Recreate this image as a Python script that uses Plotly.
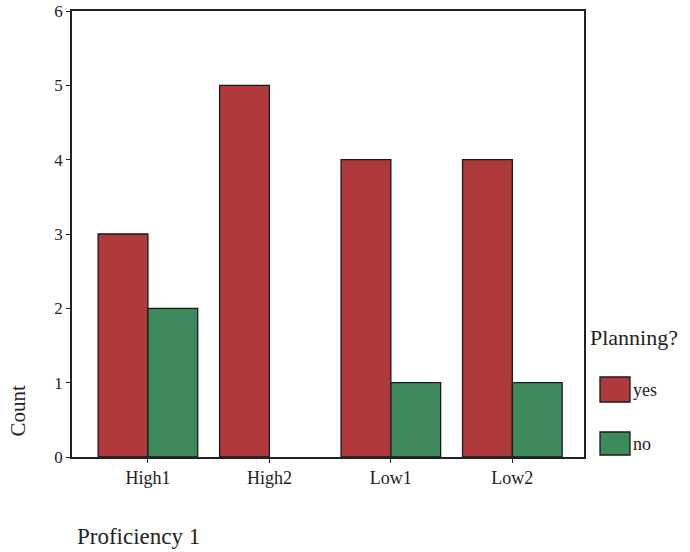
import plotly.graph_objects as go

categories = ["High1", "High2", "Low1", "Low2"]
yes_counts = [3, 5, 4, 4]
no_counts = [2, 0, 1, 1]
series_names = ["yes", "no"]
y_ticks = [0, 1, 2, 3, 4, 5, 6]

RED = "#B03A3B"
GREEN = "#3E8A5C"
FONT = "Liberation Serif"

def edge_widths(vals):
    return [0 if v == 0 else 1.3 for v in vals]

fig = go.Figure()
fig.add_trace(go.Bar(x=categories, y=yes_counts, name=series_names[0],
                     marker=dict(color=RED, line=dict(color="#1a1a1a", width=edge_widths(yes_counts)))))
fig.add_trace(go.Bar(x=categories, y=no_counts, name=series_names[1],
                     marker=dict(color=GREEN, line=dict(color="#1a1a1a", width=edge_widths(no_counts)))))

fig.update_layout(
    width=690, height=552,
    margin=dict(l=72, r=106, t=11, b=95, autoexpand=False),
    paper_bgcolor="white", plot_bgcolor="white",
    barmode="group", bargap=0.18, bargroupgap=0,
    showlegend=False,
    font=dict(family=FONT, size=14, color="#222"),
)
fig.update_xaxes(
    range=[-0.625, 3.59], showline=True, linecolor="#222", linewidth=1.5,
    mirror=True, ticks="outside", ticklen=4, tickcolor="#222",
    showgrid=False, tickfont=dict(family=FONT, size=18), automargin=False,
)
fig.update_yaxes(
    range=[0, 6], tickvals=y_ticks, showline=True, linecolor="#222", linewidth=1.5,
    mirror=True, ticks="outside", ticklen=4, tickcolor="#222",
    showgrid=False, zeroline=False, tickfont=dict(family=FONT, size=17), automargin=False,
    ticklabeloverflow="allow",
)

# axis titles
fig.add_annotation(text="Count", xref="paper", yref="paper", x=-0.105, y=0.105,
                   textangle=-90, showarrow=False, font=dict(family=FONT, size=21),
                   xanchor="center", yanchor="middle")
fig.add_annotation(text="Proficiency 1", xref="paper", yref="paper", x=0.006, y=-0.179,
                   showarrow=False, font=dict(family=FONT, size=23),
                   xanchor="left", yanchor="middle")

# legend drawn manually
fig.add_annotation(text="Planning?", xref="paper", yref="paper", x=1.008, y=0.267,
                   showarrow=False, font=dict(family=FONT, size=22),
                   xanchor="left", yanchor="middle")
pw = 584 - 72
ph = 457 - 11
def px_x(x):
    return (x - 72) / pw
def px_y(y):
    return (457 - y) / ph
for name, color, ytop, ybot in [(series_names[0], RED, 377, 402), (series_names[1], GREEN, 432, 455)]:
    fig.add_shape(type="rect", xref="paper", yref="paper",
                  x0=px_x(600), x1=px_x(630), y0=px_y(ybot), y1=px_y(ytop),
                  fillcolor=color, line=dict(color="#1a1a1a", width=1.3))
    fig.add_annotation(text=name, xref="paper", yref="paper", x=px_x(630), y=px_y((ytop + ybot) / 2),
                       showarrow=False, font=dict(family=FONT, size=18),
                       xanchor="left", yanchor="middle", xshift=1)

fig.write_html("out.html", config={"displayModeBar": False},
               post_script="document.body.style.margin='0';")
